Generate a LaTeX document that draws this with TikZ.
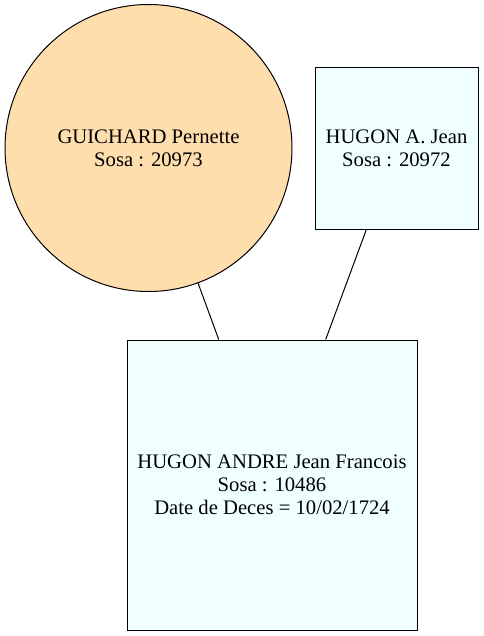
\documentclass[tikz,border=0pt]{standalone}
\usepackage{fontspec}
\setmainfont{Liberation Serif}
\definecolor{navaj}{HTML}{FFDEAD}
\definecolor{azur}{HTML}{F0FFFF}
\begin{document}
\begin{tikzpicture}[x=0.75pt,y=-0.75pt,
  person/.style={draw=black, line width=0.75pt, align=center, inner sep=0pt,
    font=\fontsize{15.5}{17.25}\selectfont},
  link/.style={draw=black, line width=0.75pt}]
\useasboundingbox (0,0) rectangle (483,636);
\fill[white] (0,0) rectangle (483,636);
\node[person, circle, fill=navaj, minimum size=287*0.75pt] (g) at (148.5,148) {GUICHARD Pernette\\Sosa : 20973};
\node[person, rectangle, fill=azur, minimum width=163*0.75pt, minimum height=162*0.75pt] (h) at (396.5,148) {HUGON A. Jean\\Sosa : 20972};
\node[person, rectangle, fill=azur, minimum width=290*0.75pt, minimum height=290*0.75pt] (c) at (272,485) {HUGON ANDRE Jean Francois\\Sosa : 10486\\Date de Deces = 10/02/1724};
\draw[link] (g) -- (c);
\draw[link] (h) -- (c);
\end{tikzpicture}
\end{document}
